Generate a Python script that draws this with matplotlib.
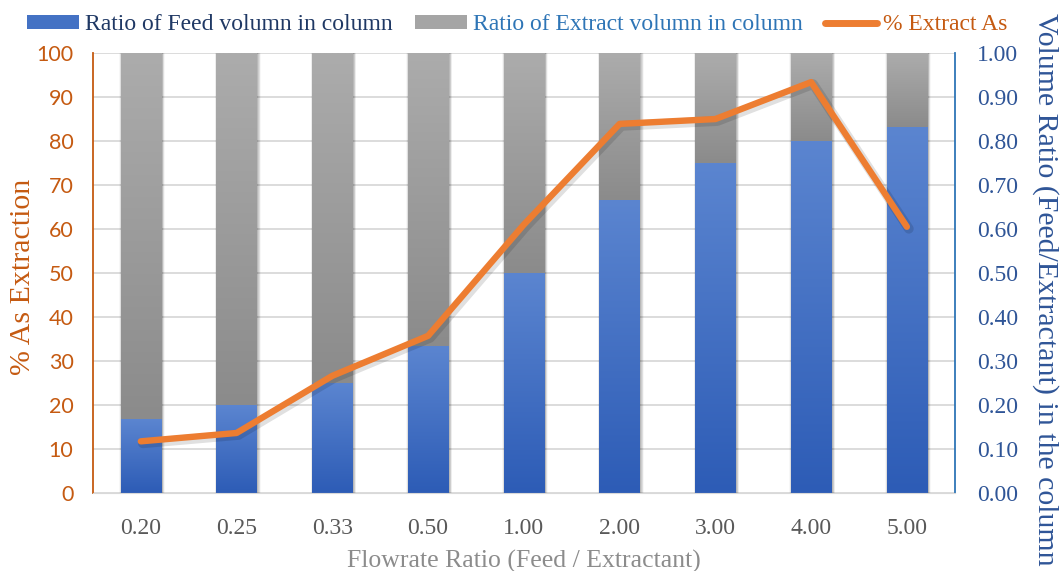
import numpy as np
import matplotlib

matplotlib.use("Agg")
import matplotlib.pyplot as plt
from matplotlib.colors import LinearSegmentedColormap
from matplotlib.patches import Patch
from matplotlib.lines import Line2D
from matplotlib.transforms import ScaledTranslation

# Flowrate ratios and measured extraction
ratio_labels = ["0.20", "0.25", "0.33", "0.50", "1.00", "2.00", "3.00", "4.00", "5.00"]
feed_fraction = [0.167, 0.200, 0.250, 0.333, 0.500, 0.667, 0.750, 0.800, 0.833]
extract_fraction = [1 - f for f in feed_fraction]
pct_extract_as = [11.7, 13.6, 26.6, 35.7, 61.0, 83.9, 85.0, 93.4, 60.5]

serif = "Liberation Serif"
orange = "#ED7D31"
orange_txt = "#C55A11"
blue_txt = "#2F5597"
legend_blue = "#2E75B6"

fig = plt.figure(figsize=(10.6, 5.71), dpi=100)
ax_bar = fig.add_axes([0.0877, 0.137, 0.813, 0.770])
ax_line = ax_bar.twinx()

x = np.arange(len(ratio_labels))
width = 0.42

blue_cmap = LinearSegmentedColormap.from_list("bl", ["#2D5CB6", "#5B85D0"])
gray_cmap = LinearSegmentedColormap.from_list("gr", ["#8B8B8B", "#ACACAC"])
grad = np.linspace(0, 1, 256).reshape(-1, 1)


def gradient_bars(ax, xs, heights, bottoms, cmap):
    # soft drop shadow behind each bar
    for k, a in zip(range(1, 6), [0.10, 0.08, 0.06, 0.04, 0.03]):
        ax.bar(xs + 0.012, heights, width + 0.012 * k, bottom=bottoms,
               color="black", alpha=a, linewidth=0, zorder=1)
    bars = ax.bar(xs, heights, width, bottom=bottoms, color="none",
                  linewidth=0, zorder=2)
    for b in bars:
        x0, y0 = b.get_x(), b.get_y()
        im = ax.imshow(grad, cmap=cmap, origin="lower", aspect="auto",
                       extent=[x0, x0 + b.get_width(), y0, y0 + b.get_height()],
                       zorder=3)
        im.set_clip_path(b)
    return bars


gradient_bars(ax_bar, x, feed_fraction, 0, blue_cmap)
gradient_bars(ax_bar, x, extract_fraction, feed_fraction, gray_cmap)

ax_bar.set_xlim(-0.5, len(x) - 0.5)
ax_bar.set_ylim(0, 1)
ax_bar.set_yticks(np.arange(0, 1.01, 0.1))
ax_bar.yaxis.tick_right()
ax_bar.set_yticklabels(["%.2f" % v for v in np.arange(0, 1.01, 0.1)],
                       family=serif, fontsize=17, color=blue_txt)
ax_bar.tick_params(axis="y", length=0, pad=16)
ax_bar.set_xticks(x)
ax_bar.set_xticklabels(ratio_labels, family=serif, fontsize=17, color="#595959")
ax_bar.tick_params(axis="x", length=0, pad=18)
ax_bar.grid(axis="y", color="#D9D9D9", linewidth=1.3, zorder=0)
ax_bar.set_axisbelow(True)
for s in ["top", "left", "bottom", "right"]:
    ax_bar.spines[s].set_visible(False)
ax_bar.set_xlabel("Flowrate Ratio (Feed / Extractant)", family=serif,
                  fontsize=18.5, color="#8C8C8C", labelpad=8)

# percentage line drawn above the bars
ax_line.set_zorder(ax_bar.get_zorder() + 1)
ax_line.patch.set_visible(False)
ax_line.plot(x, pct_extract_as, color="black", alpha=0.12, linewidth=7,
             solid_capstyle="round",
             transform=ax_line.transData + ScaledTranslation(2 / 100, -2 / 100, fig.dpi_scale_trans))
ax_line.plot(x, pct_extract_as, color=orange, linewidth=4.6,
             solid_capstyle="round", solid_joinstyle="round")
ax_line.set_ylim(0, 100)
ax_line.set_yticks(np.arange(0, 101, 10))
ax_line.yaxis.tick_left()
ax_line.tick_params(axis="y", length=0, pad=14, labelsize=15.5, labelcolor=orange_txt)
for lbl in ax_line.get_yticklabels():
    lbl.set_family("Lato")
ax_line.spines["top"].set_visible(False)
ax_line.spines["bottom"].set_color("#D9D9D9")
ax_line.spines["left"].set_color(orange_txt)
ax_line.spines["left"].set_linewidth(1.3)
ax_line.spines["right"].set_color(legend_blue)
ax_line.spines["right"].set_linewidth(1.3)

# axis titles on both sides
fig.text(23 / 1060, 1 - 277 / 571, "% As Extraction", family=serif, fontsize=21.5,
         color=orange_txt, rotation=90, ha="center", va="center")
fig.text(1045 / 1060, 1 - 289 / 571, "Volume Ratio (Feed/Extractant) in the column",
         family=serif, fontsize=21.5, color=blue_txt, rotation=270,
         ha="center", va="center")

handles = [
    Patch(facecolor="#4472C4", edgecolor="none"),
    Patch(facecolor="#A5A5A5", edgecolor="none"),
    Line2D([], [], color=orange, linewidth=5, solid_capstyle="round"),
]
names = ["Ratio of Feed volumn in column", "Ratio of Extract volumn in column",
         "% Extract As"]
leg = fig.legend(handles, names, loc="center left",
                 bbox_to_anchor=(27 / 1060, 1 - 25 / 571),
                 ncol=3, frameon=False, prop={"family": serif, "size": 17},
                 handlelength=2.2, handleheight=0.55, handletextpad=0.25,
                 columnspacing=0.95, borderpad=0, borderaxespad=0)
for t, c in zip(leg.get_texts(), ["#1F3864", legend_blue, orange_txt]):
    t.set_color(c)

fig.savefig("out.png", dpi=100)
